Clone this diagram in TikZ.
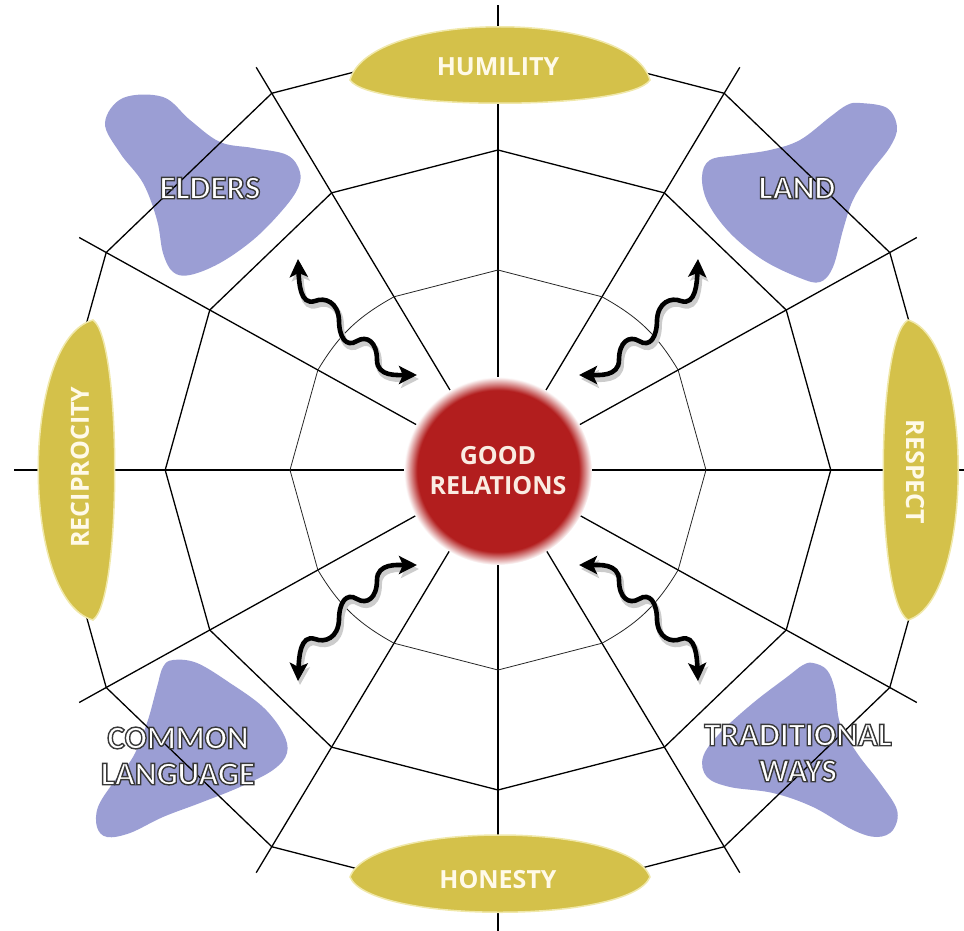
\documentclass[tikz,border=0pt]{standalone}
\usepackage{fontspec}
\setmainfont{Open Sans}
\newfontfamily\blobfont{Carlito}
\usetikzlibrary{arrows.meta,shapes,positioning}
\definecolor{grred}{RGB}{178,30,30}
\definecolor{grtext}{RGB}{250,236,226}
\definecolor{lensyellow}{RGB}{212,193,74}
\definecolor{lensglow}{RGB}{240,232,170}
\definecolor{lenstext}{RGB}{255,250,232}
\definecolor{bloblav}{RGB}{155,158,212}
\pgfdeclareradialshading{goodglow}{\pgfpoint{0bp}{0bp}}{color(0bp)=(grred); color(21.5bp)=(grred); color(25bp)=(white); color(50bp)=(white)}
% outlined letters: fill white, stroke dark grey
\newcommand{\outlined}[1]{\special{pdf:literal direct 2 Tr 1.4 w 0.22 0.22 0.22 RG}#1\special{pdf:literal direct 0 Tr}}
\tikzstyle{spoke} = [line width=1.3pt, black]
\tikzstyle{ring} = [line width=1.3pt, black, line join=round]
\tikzstyle{innerring} = [line width=0.8pt, black!85]
\tikzstyle{lens} = [fill=lensyellow, draw=lensglow, line width=1.5pt]
\tikzstyle{blob} = [fill=bloblav]
\tikzstyle{lenslabel} = [font=\fontsize{25}{30}\selectfont\bfseries, text=lenstext]
\tikzstyle{bloblabel} = [font=\blobfont\bfseries\fontsize{33}{36}\selectfont, text=white, align=center]
\tikzstyle{squig} = [line width=4.6pt, black, line cap=round,
  {Stealth[length=18pt,width=18pt,inset=4pt]}-{Stealth[length=18pt,width=18pt,inset=4pt]}]
\tikzstyle{squigshadow} = [squig, black!20, line width=6pt]

\begin{document}
\begin{tikzpicture}[x=1pt, y=1pt]
    \useasboundingbox (-498,-460) rectangle (466,470);

    % Blobs (behind the web)
    \fill[blob] plot[smooth cycle, tension=0.6] coordinates {(-393,347) (-375,372) (-335,373) (-308,350) (-278,328) (-245,322) (-211,315) (-198,298) (-201,280) (-218,257) (-245,230) (-278,207) (-308,195) (-325,198) (-335,217) (-341,250) (-355,287) (-378,317)};
    \fill[blob] plot[smooth cycle, tension=0.6] coordinates {(362,367) (389,362) (399,343) (392,323) (372,297) (355,270) (345,240) (335,203) (322,188) (302,192) (265,210) (232,237) (210,267) (204,293) (212,310) (239,315) (272,320) (302,330) (332,353) (349,365)};
    \fill[blob] plot[smooth cycle, tension=0.6] coordinates {(-325,-190) (-301,-193) (-268,-213) (-235,-237) (-215,-263) (-211,-283) (-225,-300) (-258,-317) (-298,-333) (-335,-347) (-368,-363) (-391,-367) (-401,-357) (-400,-337) (-385,-313) (-365,-287) (-351,-253) (-341,-217) (-335,-197)};
    \fill[blob] plot[smooth cycle, tension=0.6] coordinates {(315,-193) (329,-200) (337,-220) (342,-253) (359,-283) (382,-313) (399,-340) (395,-360) (379,-367) (355,-360) (315,-337) (275,-323) (232,-317) (209,-307) (205,-287) (222,-263) (255,-233) (289,-207) (305,-195)};

    % Web
    \begin{scope}[xscale=1.04]
        \foreach \a in {0,30,...,330}
            \draw[spoke] (0,0) -- (\a:465);
        \draw[ring] (0:435) \foreach \a in {30,60,...,330} {-- (\a:435)} -- cycle;
        \draw[ring] (0:320) \foreach \a in {30,60,...,330} {-- (\a:320)} -- cycle;
        \foreach \a/\b in {0/0,30/15,60/0,90/0,120/15,150/0,180/0,210/15,240/0,270/0,300/15,330/0}
            \draw[innerring] (\a:200) to[bend right=\b] (\a+30:200);
    \end{scope}

    % Yellow lenses
    \filldraw[lens] (-148,390) .. controls (-128,461) and (132,461) .. (152,390) .. controls (132,359) and (-128,359) .. (-148,390) -- cycle;
    \filldraw[lens] (-148,-407) .. controls (-128,-454) and (132,-454) .. (152,-407) .. controls (132,-351) and (-128,-351) .. (-148,-407) -- cycle;
    \filldraw[lens] (-405,150) .. controls (-478,130) and (-478,-130) .. (-405,-150) .. controls (-376,-130) and (-376,130) .. (-405,150) -- cycle;
    \filldraw[lens] (410,150) .. controls (477,130) and (477,-130) .. (410,-150) .. controls (377,-130) and (377,130) .. (410,150) -- cycle;

    \node[lenslabel] (humility) at (0,403) {HUMILITY};
    \node[lenslabel] (honesty) at (0,-410) {HONESTY};
    \node[lenslabel, rotate=90] (reciprocity) at (-418,3) {RECIPROCITY};
    \node[lenslabel, rotate=-90] (respect) at (417,-2) {RESPECT};

    % Centre
    \node[circle, minimum size=188pt, inner sep=0pt, shading=goodglow, align=center,
          text=grtext, font=\fontsize{25}{30}\selectfont\bfseries] (good) at (0,-1) {GOOD\\RELATIONS};

    % Wavy arrows
    \foreach \sx/\sy/\nm in {1/1/ul, -1/1/ur, 1/-1/ll, -1/-1/lr} {
        \begin{scope}[xscale=\sx, yscale=\sy]
            \coordinate (\nm-a) at (-200,211);
            \coordinate (\nm-b) at (-81,95);
            \begin{scope}[transform canvas={shift={(2pt,-4pt)}}]
                \draw[squigshadow] (\nm-a) .. controls (-199,188) and (-198,164) .. (-183,169) .. controls (-173,173) and (-160,168) .. (-159,150) .. controls (-159,133) and (-152,122) .. (-141,129) .. controls (-131,135) and (-121,128) .. (-121,110) .. controls (-121,93) and (-100,95) .. (\nm-b);
            \end{scope}
            \draw[squig] (\nm-a) .. controls (-199,188) and (-198,164) .. (-183,169) .. controls (-173,173) and (-160,168) .. (-159,150) .. controls (-159,133) and (-152,122) .. (-141,129) .. controls (-131,135) and (-121,128) .. (-121,110) .. controls (-121,93) and (-100,95) .. (\nm-b);
        \end{scope}
    }

    % Blob labels
    \node[bloblabel] (elders) at (-288,282) {\outlined{ELDERS}};
    \node[bloblabel] (land) at (299,282) {\outlined{LAND}};
    \node[bloblabel] (language) at (-320,-286) {\outlined{COMMON}\\\outlined{LANGUAGE}};
    \node[bloblabel] (ways) at (300,-283) {\outlined{TRADITIONAL}\\\outlined{WAYS}};
\end{tikzpicture}
\end{document}
